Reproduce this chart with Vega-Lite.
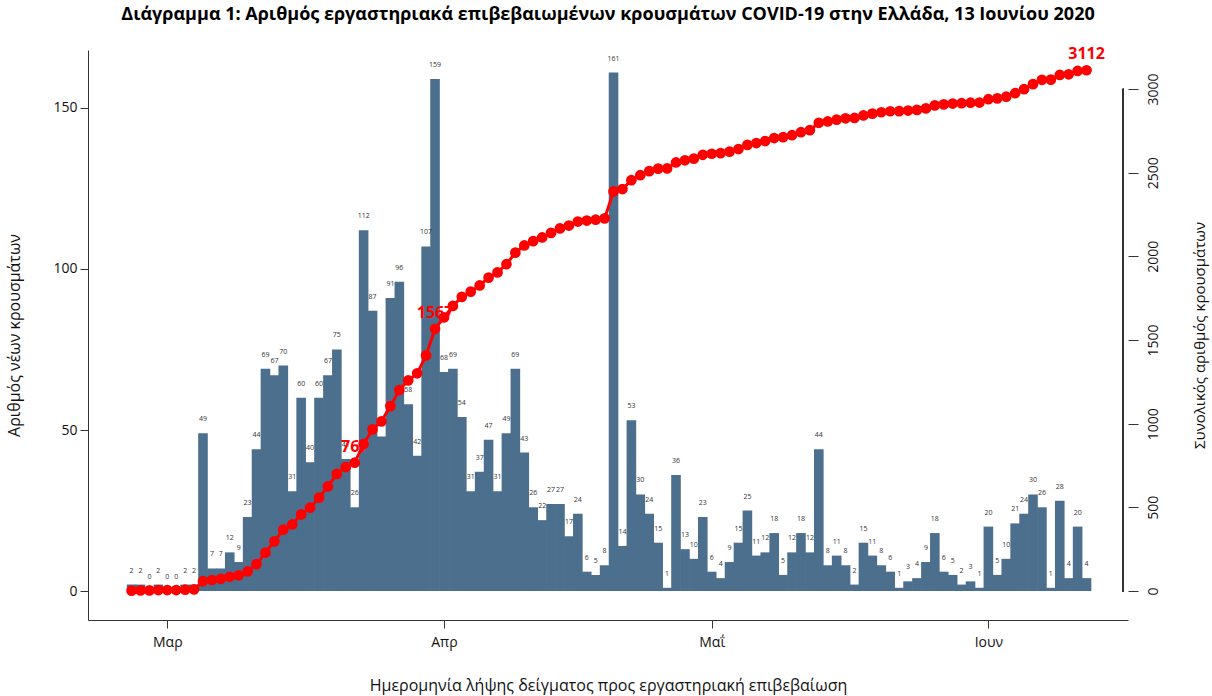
{
  "$schema": "https://vega.github.io/schema/vega-lite/v6.json",
  "width": 1040,
  "height": 570,
  "autosize": "none",
  "padding": {"left": 88, "top": 50, "right": 84, "bottom": 76},
  "config": {
    "view": {"stroke": null},
    "font": "Open Sans",
    "axis": {
      "grid": false,
      "domainColor": "#333333",
      "tickColor": "#333333",
      "labelColor": "#111111",
      "titleColor": "#111111",
      "labelFontSize": 14,
      "titleFontSize": 16,
      "titleFontWeight": "normal",
      "tickSize": 8,
      "domainWidth": 1,
      "tickWidth": 1
    }
  },
  "title": {
    "text": "Διάγραμμα 1: Αριθμός εργαστηριακά επιβεβαιωμένων κρουσμάτων COVID-19 στην Ελλάδα, 13 Ιουνίου 2020",
    "fontSize": 18,
    "fontWeight": "bold",
    "anchor": "middle",
    "offset": 22,
    "color": "#000000"
  },
  "data": {
    "values": [
      {"date": "2020-02-26", "n": 2, "cum": 2},
      {"date": "2020-02-27", "n": 2, "cum": 4},
      {"date": "2020-02-28", "n": 0, "cum": 4},
      {"date": "2020-02-29", "n": 2, "cum": 6},
      {"date": "2020-03-01", "n": 0, "cum": 6},
      {"date": "2020-03-02", "n": 0, "cum": 6},
      {"date": "2020-03-03", "n": 2, "cum": 8},
      {"date": "2020-03-04", "n": 2, "cum": 10},
      {"date": "2020-03-05", "n": 49, "cum": 59},
      {"date": "2020-03-06", "n": 7, "cum": 66},
      {"date": "2020-03-07", "n": 7, "cum": 73},
      {"date": "2020-03-08", "n": 12, "cum": 85},
      {"date": "2020-03-09", "n": 9, "cum": 94},
      {"date": "2020-03-10", "n": 23, "cum": 117},
      {"date": "2020-03-11", "n": 44, "cum": 161},
      {"date": "2020-03-12", "n": 69, "cum": 230},
      {"date": "2020-03-13", "n": 67, "cum": 297},
      {"date": "2020-03-14", "n": 70, "cum": 367},
      {"date": "2020-03-15", "n": 31, "cum": 398},
      {"date": "2020-03-16", "n": 60, "cum": 458},
      {"date": "2020-03-17", "n": 40, "cum": 498},
      {"date": "2020-03-18", "n": 60, "cum": 558},
      {"date": "2020-03-19", "n": 67, "cum": 625},
      {"date": "2020-03-20", "n": 75, "cum": 700},
      {"date": "2020-03-21", "n": 41, "cum": 741},
      {"date": "2020-03-22", "n": 26, "cum": 767},
      {"date": "2020-03-23", "n": 112, "cum": 879},
      {"date": "2020-03-24", "n": 87, "cum": 966},
      {"date": "2020-03-25", "n": 48, "cum": 1014},
      {"date": "2020-03-26", "n": 91, "cum": 1105},
      {"date": "2020-03-27", "n": 96, "cum": 1201},
      {"date": "2020-03-28", "n": 58, "cum": 1259},
      {"date": "2020-03-29", "n": 42, "cum": 1301},
      {"date": "2020-03-30", "n": 107, "cum": 1408},
      {"date": "2020-03-31", "n": 159, "cum": 1567},
      {"date": "2020-04-01", "n": 68, "cum": 1635},
      {"date": "2020-04-02", "n": 69, "cum": 1704},
      {"date": "2020-04-03", "n": 54, "cum": 1758},
      {"date": "2020-04-04", "n": 31, "cum": 1789},
      {"date": "2020-04-05", "n": 37, "cum": 1826},
      {"date": "2020-04-06", "n": 47, "cum": 1873},
      {"date": "2020-04-07", "n": 31, "cum": 1904},
      {"date": "2020-04-08", "n": 49, "cum": 1953},
      {"date": "2020-04-09", "n": 69, "cum": 2022},
      {"date": "2020-04-10", "n": 43, "cum": 2065},
      {"date": "2020-04-11", "n": 26, "cum": 2091},
      {"date": "2020-04-12", "n": 22, "cum": 2113},
      {"date": "2020-04-13", "n": 27, "cum": 2140},
      {"date": "2020-04-14", "n": 27, "cum": 2167},
      {"date": "2020-04-15", "n": 17, "cum": 2184},
      {"date": "2020-04-16", "n": 24, "cum": 2208},
      {"date": "2020-04-17", "n": 6, "cum": 2214},
      {"date": "2020-04-18", "n": 5, "cum": 2219},
      {"date": "2020-04-19", "n": 8, "cum": 2227},
      {"date": "2020-04-20", "n": 161, "cum": 2388},
      {"date": "2020-04-21", "n": 14, "cum": 2402},
      {"date": "2020-04-22", "n": 53, "cum": 2455},
      {"date": "2020-04-23", "n": 30, "cum": 2485},
      {"date": "2020-04-24", "n": 24, "cum": 2509},
      {"date": "2020-04-25", "n": 15, "cum": 2524},
      {"date": "2020-04-26", "n": 1, "cum": 2525},
      {"date": "2020-04-27", "n": 36, "cum": 2561},
      {"date": "2020-04-28", "n": 13, "cum": 2574},
      {"date": "2020-04-29", "n": 10, "cum": 2584},
      {"date": "2020-04-30", "n": 23, "cum": 2607},
      {"date": "2020-05-01", "n": 6, "cum": 2613},
      {"date": "2020-05-02", "n": 4, "cum": 2617},
      {"date": "2020-05-03", "n": 9, "cum": 2626},
      {"date": "2020-05-04", "n": 15, "cum": 2641},
      {"date": "2020-05-05", "n": 25, "cum": 2666},
      {"date": "2020-05-06", "n": 11, "cum": 2677},
      {"date": "2020-05-07", "n": 12, "cum": 2689},
      {"date": "2020-05-08", "n": 18, "cum": 2707},
      {"date": "2020-05-09", "n": 5, "cum": 2712},
      {"date": "2020-05-10", "n": 12, "cum": 2724},
      {"date": "2020-05-11", "n": 18, "cum": 2742},
      {"date": "2020-05-12", "n": 12, "cum": 2754},
      {"date": "2020-05-13", "n": 44, "cum": 2798},
      {"date": "2020-05-14", "n": 8, "cum": 2806},
      {"date": "2020-05-15", "n": 11, "cum": 2817},
      {"date": "2020-05-16", "n": 8, "cum": 2825},
      {"date": "2020-05-17", "n": 2, "cum": 2827},
      {"date": "2020-05-18", "n": 15, "cum": 2842},
      {"date": "2020-05-19", "n": 11, "cum": 2853},
      {"date": "2020-05-20", "n": 8, "cum": 2861},
      {"date": "2020-05-21", "n": 6, "cum": 2867},
      {"date": "2020-05-22", "n": 1, "cum": 2868},
      {"date": "2020-05-23", "n": 3, "cum": 2871},
      {"date": "2020-05-24", "n": 4, "cum": 2875},
      {"date": "2020-05-25", "n": 9, "cum": 2884},
      {"date": "2020-05-26", "n": 18, "cum": 2902},
      {"date": "2020-05-27", "n": 6, "cum": 2908},
      {"date": "2020-05-28", "n": 5, "cum": 2913},
      {"date": "2020-05-29", "n": 2, "cum": 2915},
      {"date": "2020-05-30", "n": 3, "cum": 2918},
      {"date": "2020-05-31", "n": 1, "cum": 2919},
      {"date": "2020-06-01", "n": 20, "cum": 2939},
      {"date": "2020-06-02", "n": 5, "cum": 2944},
      {"date": "2020-06-03", "n": 10, "cum": 2954},
      {"date": "2020-06-04", "n": 21, "cum": 2975},
      {"date": "2020-06-05", "n": 24, "cum": 2999},
      {"date": "2020-06-06", "n": 30, "cum": 3029},
      {"date": "2020-06-07", "n": 26, "cum": 3055},
      {"date": "2020-06-08", "n": 1, "cum": 3056},
      {"date": "2020-06-09", "n": 28, "cum": 3084},
      {"date": "2020-06-10", "n": 4, "cum": 3088},
      {"date": "2020-06-11", "n": 20, "cum": 3108},
      {"date": "2020-06-12", "n": 4, "cum": 3112}
    ]
  },
  "layer": [
    {
      "layer": [
        {
          "mark": {"type": "bar", "size": 9.6, "color": "#4b6f8d"},
          "encoding": {
            "x": {
              "field": "date",
              "type": "temporal",
              "scale": {
                "type": "utc",
                "domain": [
                  {"year": 2020, "month": "February", "date": 21, "hours": 16, "minutes": 15, "utc": true},
                  {"year": 2020, "month": "June", "date": 16, "hours": 2, "utc": true}
                ]
              },
              "axis": {
                "values": [
                  {"year": 2020, "month": "March", "date": 1, "utc": true},
                  {"year": 2020, "month": "April", "date": 1, "utc": true},
                  {"year": 2020, "month": "May", "date": 1, "utc": true},
                  {"year": 2020, "month": "June", "date": 1, "utc": true}
                ],
                "labelExpr": "['Ιαν','Φεβ','Μαρ','Απρ','Μαΐ','Ιουν','Ιουλ'][utcmonth(datum.value)]",
                "title": "Ημερομηνία λήψης δείγματος προς εργαστηριακή επιβεβαίωση",
                "labelPadding": 7,
                "titlePadding": 28,
                "labelFlush": false
              }
            },
            "y": {
              "field": "n",
              "type": "quantitative",
              "scale": {"domain": [-9, 168], "nice": false, "zero": false},
              "axis": {
                "orient": "left",
                "values": [0, 50, 100, 150],
                "title": "Αριθμός νέων κρουσμάτων",
                "labelPadding": 3,
                "titlePadding": 30
              }
            }
          }
        },
        {
          "mark": {"type": "text", "fontSize": 7, "dy": -14, "fill": "#333333", "baseline": "middle"},
          "encoding": {
            "x": {"field": "date", "type": "temporal"},
            "y": {"field": "n", "type": "quantitative"},
            "text": {"field": "n", "type": "quantitative"}
          }
        }
      ]
    },
    {
      "layer": [
        {
          "mark": {"type": "line", "color": "#ff0000", "strokeWidth": 3},
          "encoding": {
            "x": {"field": "date", "type": "temporal"},
            "y": {
              "field": "cum",
              "type": "quantitative",
              "scale": {"domain": [-173, 3233], "nice": false, "zero": false},
              "axis": {
                "orient": "right",
                "values": [0, 500, 1000, 1500, 2000, 2500, 3000],
                "format": "d",
                "domain": false,
                "tickSize": 10,
                "labelAngle": 270,
                "labelAlign": "center",
                "labelBaseline": "top",
                "labelPadding": 8,
                "title": "Συνολικός αριθμός κρουσμάτων",
                "titleAngle": 270,
                "titleFontSize": 15,
                "titlePadding": 47
              }
            }
          }
        },
        {
          "mark": {"type": "rule", "color": "#333333", "strokeWidth": 1},
          "encoding": {
            "x": {"datum": {"year": 2020, "month": "June", "date": 16, "hours": 2, "utc": true}, "type": "temporal"},
            "y": {"datum": 0, "type": "quantitative"},
            "y2": {"datum": 3000}
          }
        },
        {
          "transform": [{"filter": "datum.cum == 767 || datum.cum == 1567 || datum.cum == 3112"}],
          "mark": {"type": "text", "fontSize": 16, "fontWeight": "bold", "fill": "#ff0000", "dy": -16, "baseline": "middle"},
          "encoding": {
            "x": {"field": "date", "type": "temporal"},
            "y": {"field": "cum", "type": "quantitative"},
            "text": {"field": "cum", "type": "quantitative"}
          }
        },
        {
          "mark": {"type": "point", "filled": true, "size": 115, "color": "#ff0000", "opacity": 1},
          "encoding": {
            "x": {"field": "date", "type": "temporal"},
            "y": {"field": "cum", "type": "quantitative"}
          }
        }
      ]
    }
  ],
  "resolve": {"scale": {"y": "independent"}, "axis": {"y": "independent"}}
}
